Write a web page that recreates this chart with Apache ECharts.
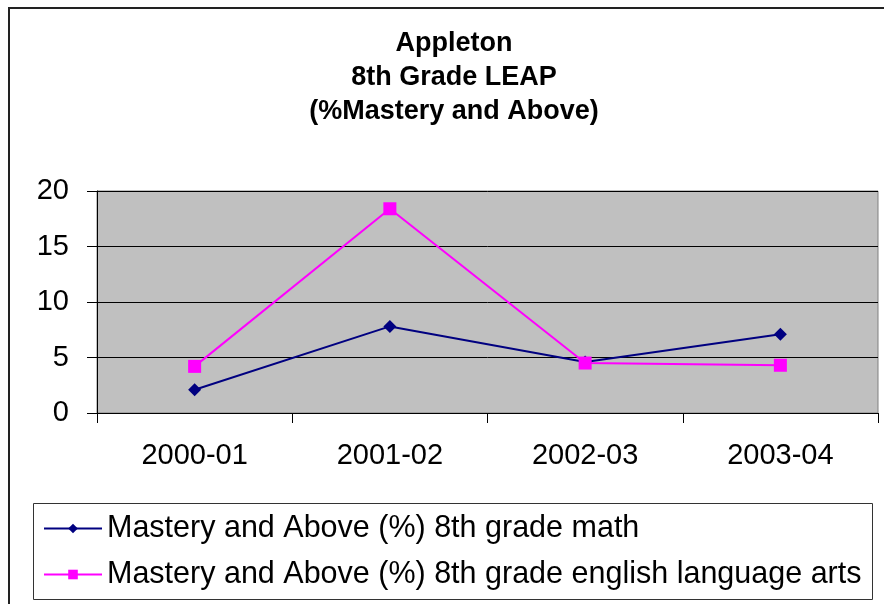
<!DOCTYPE html>
<html>
<head>
<meta charset="utf-8">
<script src="https://cdn.jsdelivr.net/npm/echarts@6/dist/echarts.min.js"></script>
<style>
  html, body { margin: 0; padding: 0; background: #fff; }
</style>
</head>
<body>
<div id="chart" style="width:884px;height:604px;"></div>
<script>
// data
var years = ['2000-01', '2001-02', '2002-03', '2003-04']
var mathValues = [2.1, 7.8, 4.6, 7.1]
var elaValues = [4.2, 18.4, 4.5, 4.3]
var mathName = 'Mastery and Above (%) 8th grade math'
var elaName = 'Mastery and Above (%) 8th grade english language arts'
var titleText = 'Appleton\n8th Grade LEAP\n(%Mastery and Above)'

var font = 'Arial, "Liberation Sans", sans-serif'

var chart = echarts.init(document.getElementById('chart'))
chart.setOption({
    animation: false,
    backgroundColor: '#fff',
    textStyle: { fontFamily: font, color: '#000' },
    title: {
        text: titleText,
        left: 449,
        textAlign: 'center',
        top: 22,
        textStyle: {
            fontFamily: font,
            fontSize: 27,
            fontWeight: 'bold',
            lineHeight: 34,
            color: '#000'
        }
    },
    graphic: [
        // outer chart frame (runs off the bottom/right of the picture)
        {
            type: 'rect',
            shape: { x: 9, y: 8, width: 1000, height: 1000 },
            style: { fill: null, stroke: '#222', lineWidth: 2 },
            silent: true
        },
        // legend box
        {
            type: 'rect',
            shape: { x: 33.5, y: 503.5, width: 839, height: 96 },
            style: { fill: '#fff', stroke: '#333', lineWidth: 1 },
            silent: true,
            z: 0
        }
    ],
    legend: {
        orient: 'vertical',
        left: 43,
        top: 513,
        itemWidth: 58,
        itemHeight: 12,
        itemGap: 15,
        padding: 0,
        z: 10,
        textStyle: { fontFamily: font, fontSize: 30.5, color: '#000' },
        data: [mathName, elaName]
    },
    grid: {
        left: 97,
        right: 6,
        top: 191,
        bottom: 191,
        show: true,
        backgroundColor: '#c0c0c0',
        borderColor: '#808080',
        borderWidth: 1
    },
    xAxis: {
        type: 'category',
        data: years,
        boundaryGap: true,
        axisLine: { lineStyle: { color: '#000', width: 1 } },
        axisTick: { show: true, length: 10, inside: false, lineStyle: { color: '#000' } },
        axisLabel: { fontFamily: font, fontSize: 29, color: '#000', margin: 28 }
    },
    yAxis: {
        type: 'value',
        min: 0,
        max: 20,
        interval: 5,
        axisLine: { show: true, lineStyle: { color: '#000', width: 1 } },
        axisTick: { show: true, length: 10, lineStyle: { color: '#000' } },
        axisLabel: { fontFamily: font, fontSize: 29, color: '#000', margin: 28 },
        splitLine: { show: true, lineStyle: { color: '#000', width: 1 } }
    },
    series: [
        {
            name: mathName,
            type: 'line',
            data: mathValues,
            symbol: 'diamond',
            symbolSize: 13,
            itemStyle: { color: '#000080' },
            lineStyle: { color: '#000080', width: 2 }
        },
        {
            name: elaName,
            type: 'line',
            data: elaValues,
            symbol: 'rect',
            symbolSize: 13,
            itemStyle: { color: '#ff00ff' },
            lineStyle: { color: '#ff00ff', width: 2 }
        }
    ]
})
</script>
</body>
</html>
